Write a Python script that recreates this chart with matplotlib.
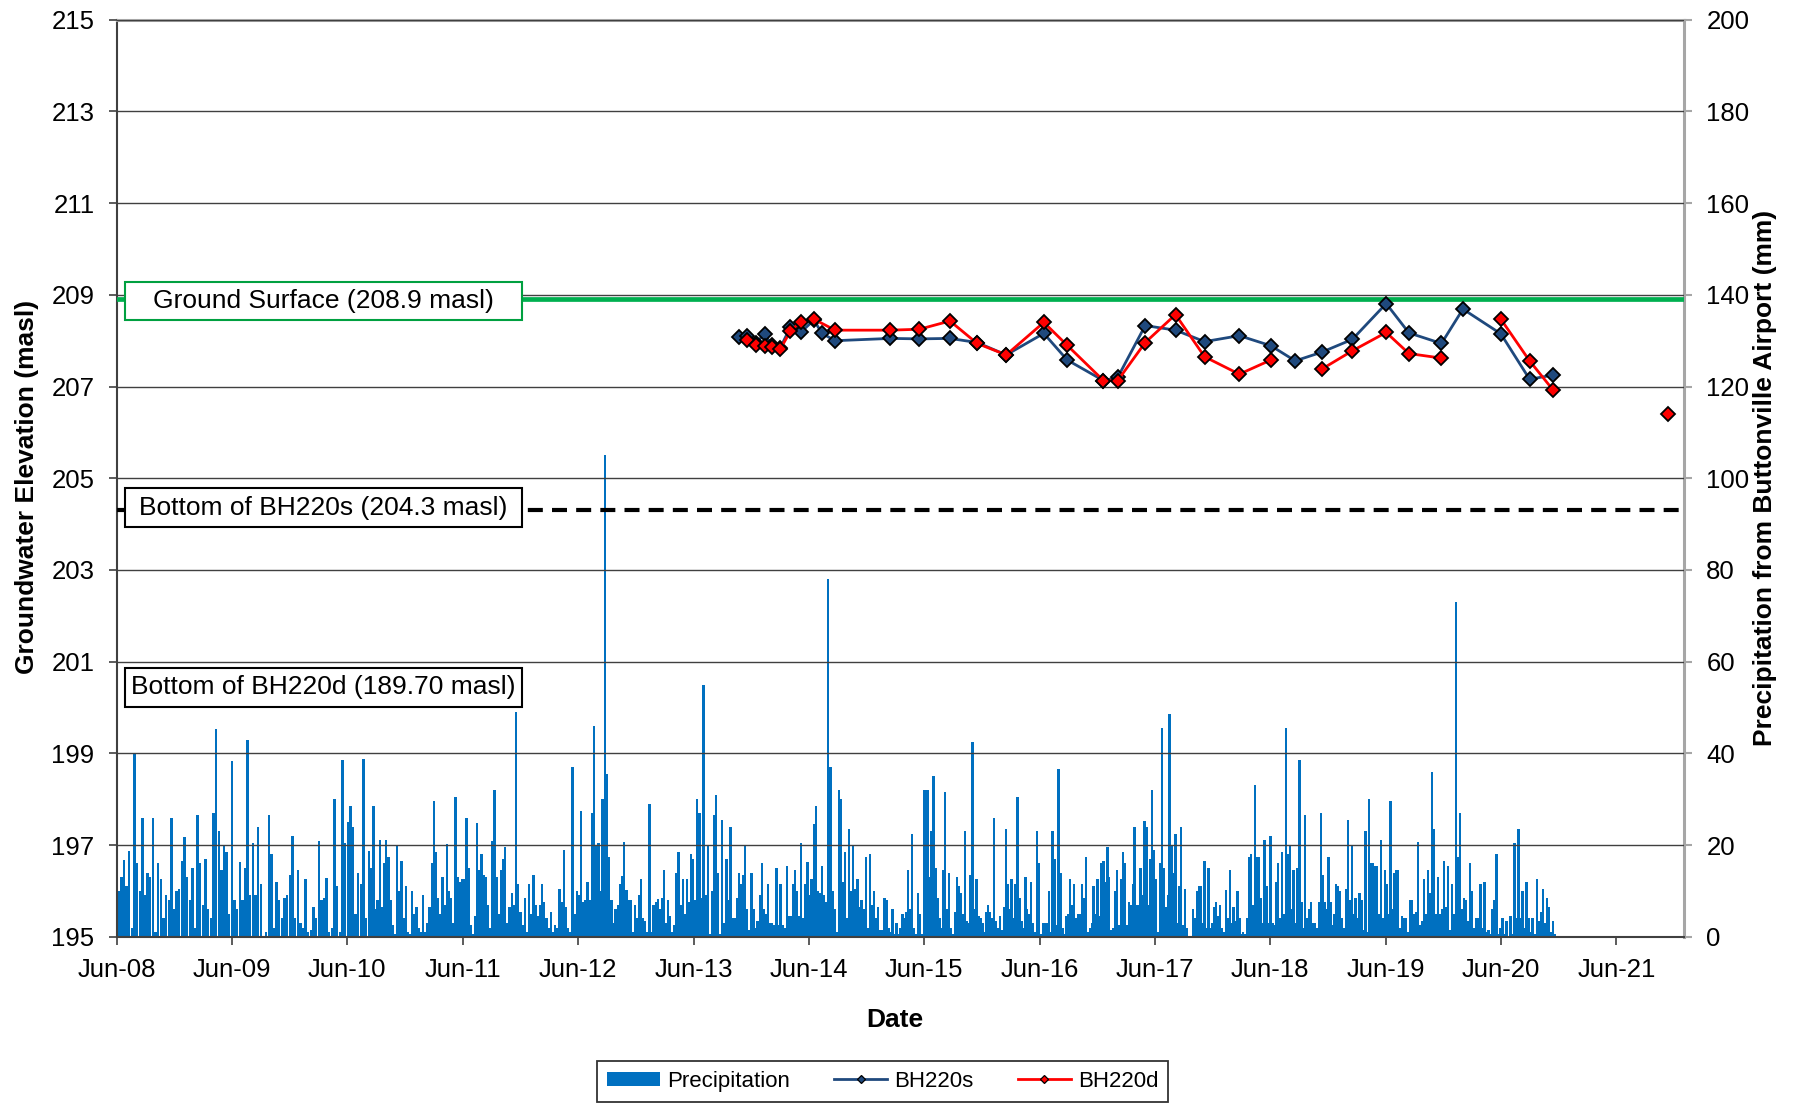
"""
Groundwater levels in BH220s / BH220d against daily precipitation
(Buttonville Airport), Jun 2008 - Dec 2021.
"""

import numpy as np
import pandas as pd
import matplotlib
matplotlib.use("Agg")
import matplotlib.pyplot as plt
import matplotlib.dates as mdates
from matplotlib.lines import Line2D
from matplotlib.patches import Patch, Rectangle
from matplotlib.transforms import blended_transform_factory

plt.rcParams["font.family"] = ["Liberation Sans", "DejaVu Sans"]

# --- Data ---------------------------------------------------------------------

# Reference elevations (masl)
GROUND_SURFACE = 208.9
BOTTOM_BH220S = 204.3
BOTTOM_BH220D = 189.70

# Water levels (masl); nan = no reading (breaks the line)
BH220S_DATES = ["2013-10-22", "2013-11-18", "2013-12-15", "2014-01-13", "2014-02-03",
                "2014-03-03", "2014-04-04", "2014-05-06", "2014-06-17", "2014-07-13",
                "2014-08-23", "2015-02-14", "2015-05-17", "2015-08-22", "2015-11-16",
                "2016-02-16", "2016-06-14", "2016-08-27", "2016-12-20", "2017-02-03",
                "2017-05-01", "2017-08-05", "2017-11-05", "2018-02-23", "2018-06-03",
                "2018-08-19", "2018-11-11", "2019-02-16", "2019-06-03", "2019-08-14",
                "2019-11-25", "2020-02-01", "2020-05-31", "2020-08-30", "2020-11-13"]
BH220S = [208.07, 208.10, 207.95, 208.15, 207.90, 207.85, 208.30, 208.18, 208.45, 208.16,
          208.00, 208.05, 208.04, 208.05, 207.96, 207.69, 208.16, 207.58, 207.13, 207.20,
          208.33, 208.23, 207.98, 208.11, 207.89, 207.56, 207.75, 208.03, 208.81, 208.17,
          207.94, 208.69, 208.15, 207.16, 207.25]

BH220D_DATES = ["2013-11-18", "2013-12-15", "2014-01-13", "2014-02-03", "2014-03-03",
                "2014-04-04", "2014-05-06", "2014-06-17", "2014-08-23", "2015-02-14",
                "2015-05-17", "2015-08-22", "2015-11-16", "2016-02-16", "2016-06-14",
                "2016-08-27", "2016-12-20", "2017-02-03", "2017-05-01", "2017-08-05",
                "2017-11-05", "2018-02-23", "2018-06-03", "2018-08-19", "2018-11-11",
                "2019-02-16", "2019-06-03", "2019-08-14", "2019-11-25", "2020-02-01",
                "2020-05-31", "2020-08-30", "2020-11-13", "2021-05-01", "2021-11-12"]
BH220D = [208.01, 207.90, 207.89, 207.87, 207.82, 208.21, 208.41, 208.47, 208.23, 208.23,
          208.25, 208.43, 207.94, 207.69, 208.40, 207.90, 207.13, 207.13, 207.96, 208.57,
          207.65, 207.27, 207.58, np.nan, 207.38, 207.78, 208.18, 207.72, 207.62, np.nan,
          208.47, 207.56, 206.92, np.nan, 206.40]

# Precipitation (mm), read off in six consecutive stretches; values are spread
# evenly over each stretch (roughly one bar every 6-8 days).
PRECIP_BOUNDS = ["2008-06-03", "2010-08-12", "2012-11-11", "2015-02-12",
                 "2017-05-14", "2019-08-14", "2020-11-21"]

PRECIP_1 = [10, 13, 16.7, 11, 18.7, 2, 40, 16, 10, 26, 9, 14, 13, 26, 1, 16, 12.5, 4, 9, 8,
            26, 6, 10, 10.5, 16.5, 21.7, 13, 8, 15, 2, 26.5, 16, 7, 17, 6, 4, 27, 45.4, 23, 14.5,
            20, 18.5, 5, 38.4, 8, 6, 16.2, 8, 15, 43, 9, 20.5, 9, 24, 11.5, 0, 1, 26.5, 18, 2,
            12, 8, 4, 8.5, 9, 13.5, 22, 4, 14.5, 3, 2, 12.5, 1, 1.5, 6.5, 4, 20.8, 8, 8.5, 12.8,
            1, 2, 30, 11, 1, 38.6, 20.5, 25, 28.5, 24, 5, 14, 11.5, 38.8, 4, 18.6]

PRECIP_2 = [15, 28.5, 6, 8, 21, 6.5, 16, 21, 17.5, 8, 2.5, 0.5, 20, 10, 16.5, 4, 11, 1, 0.5, 10,
            5, 6.5, 2, 1, 9, 1, 3, 6.5, 16, 29.7, 18.5, 8.5, 5, 13, 7, 20.3, 10, 8.5, 3, 30.5,
            13, 12, 12.5, 12.5, 25.8, 15, 2.5, 0.5, 4.5, 24.8, 14.5, 18, 13.5, 13, 7, 2, 20.8, 32, 13, 5,
            14.5, 17, 19.5, 3, 6.5, 9.5, 7, 49, 11.5, 5.5, 2.5, 8.5, 1, 11.5, 5, 13.5, 7, 4.5, 7, 11.5,
            7.5, 4, 2, 5.5, 1, 2.5, 2, 10.5, 7.5, 19, 6.5, 2, 1, 37, 5, 10, 9, 27.5, 7.5, 8,
            12, 8, 27, 46, 20, 20.5, 10, 30, 105, 35.5, 17.5, 8, 3, 6, 7, 11.5, 13.2, 20.7, 10.3, 8]

PRECIP_3 = [8, 1, 7, 4, 9, 12.5, 4, 3.5, 1, 29, 1, 7, 7.5, 8.2, 6, 8.5, 14.5, 3, 8, 4.5,
            1, 2.5, 14, 18.5, 7, 12.5, 5, 12.7, 7.5, 18, 17, 8, 30, 27, 8.5, 55, 9, 20, 0.5, 10,
            26.5, 31, 14, 0.5, 25.5, 3, 17, 8, 24, 4, 4, 8.5, 14, 11.5, 13.5, 20, 6, 1.5, 14, 6,
            2, 3.5, 9, 16, 6, 5, 11.5, 3, 3, 2.5, 15, 2.5, 11.5, 2.5, 2, 15.5, 4.5, 4.5, 11.5, 14.5,
            10, 4.5, 20.5, 4, 11.5, 16.2, 9, 12.7, 24.5, 28.5, 10, 9.5, 15.5, 9, 7.5, 78, 37, 10, 6, 1,
            32, 30, 12, 18.5, 4, 23.5, 10, 20, 10.5, 12.5, 6.5, 8, 6, 17.5, 2, 18, 7, 10, 4, 6.5,
            1.5, 1.5, 8.5, 8, 2]

PRECIP_4 = [1, 6, 0.5, 3, 0.5, 2, 5, 4, 5.5, 14.5, 6, 22.5, 2, 0.5, 9.5, 5, 0.5, 32, 32, 32,
            13, 23, 35, 15, 8.5, 4, 2, 14.5, 31.5, 6, 14, 2, 0.5, 5.5, 13, 11, 9.5, 5, 23, 3.5,
            3, 13.5, 42.5, 6, 12.5, 4.5, 4, 3, 1, 5.5, 7, 5.5, 4, 26, 3.5, 2, 4.5, 1.5, 6.5, 23.5,
            11.5, 6, 12.5, 4, 11.5, 30.5, 8.5, 3.5, 2, 13, 6, 5, 12, 3, 1, 23, 16, 0.5, 3, 3,
            3, 10, 1, 23, 17, 2.5, 36.5, 14, 2, 0.5, 4.5, 5, 12.5, 7, 11.5, 4, 5, 5, 11.5, 8.5,
            17.3, 1, 2, 3, 11, 5, 12.7, 4.5, 16, 16.5, 12, 19.5, 13, 1.5, 2, 10, 14.5, 2.5, 12.5, 18.5,
            16, 2.5, 7.5, 7, 11.5, 24, 7, 7, 15, 9, 25.2, 24, 7]

PRECIP_5 = [17, 32, 19, 12.5, 1, 16, 45.5, 15, 6.5, 9, 48.5, 20, 14, 22.5, 3, 11, 24, 2.5, 10.5, 2,
            0, 0, 6, 4, 10, 11, 11, 3, 16.5, 2, 15, 2, 3, 6.5, 7.5, 4.5, 7, 2, 1, 10.3,
            4, 14.5, 3, 6.5, 3.5, 10, 4, 0.5, 1, 0.5, 4, 17.5, 18, 7, 33, 17.5, 17.5, 8.5, 3, 21,
            11, 3, 22, 3, 2.5, 12, 16, 4, 18.5, 5, 45.5, 18, 20, 6, 14.5, 3, 15, 38.5, 7.5, 2,
            26.5, 4, 6, 7.5, 3, 3, 2, 7.5, 27, 13.5, 7.5, 6, 17.5, 7.5, 2.5, 5, 11.5, 11, 10, 4,
            2, 10.5, 25.5, 8, 20, 5, 8.5, 4, 9.5, 8, 1.5, 23, 1, 30, 16, 16, 15.5, 15.5, 5, 21,
            4, 14.5, 11.5, 5, 29.5, 6, 14, 14.5, 14.5, 2, 4.5, 4, 4, 1]

PRECIP_6 = [8, 8, 5, 5.5, 20.7, 2.5, 3.5, 12.5, 5, 14.5, 9.5, 36, 23.5, 5, 13, 5, 6, 16.5, 6.5, 15.5,
            1.5, 11.5, 5, 73, 17.5, 27, 6, 8.5, 8, 3.5, 16, 10, 2, 4, 4, 11.5, 2, 12, 1, 1.5,
            0.5, 6, 8, 18, 0.5, 2, 4, 0.5, 3.5, 0, 4.5, 0.5, 20.5, 4, 23.5, 4, 10, 2, 12, 4,
            1, 4, 0.5, 12.5, 3.5, 5.5, 10.5, 3, 8.5, 6.5, 1, 3.5, 0.5]

PRECIP_STRETCHES = [PRECIP_1, PRECIP_2, PRECIP_3, PRECIP_4, PRECIP_5, PRECIP_6]

# --- Colours / styles ---------------------------------------------------------

BAR_BLUE = "#0070C0"
S_BLUE = "#1F497D"
D_RED = "#FF0000"
GREEN = "#00B050"
GRID = "#404040"
FRAME_GREY = "#A6A6A6"


def precip_series():
    """Dates (matplotlib numbers) and mm for all precipitation bars."""
    meje = mdates.date2num(pd.to_datetime(PRECIP_BOUNDS))
    x, y = [], []
    for k, vals in enumerate(PRECIP_STRETCHES):
        korak = (meje[k + 1] - meje[k]) / len(vals)
        x.extend(meje[k] + (np.arange(len(vals)) + 0.5) * korak)
        y.extend(vals)
    return np.array(x), np.array(y)


def text_box(ax, y_lo, y_hi, label, edge):
    """White labelled box at the left of the plot (x in axes, y in data)."""
    trans = blended_transform_factory(ax.transAxes, ax.transData)
    ax.add_patch(Rectangle((0.0053, y_lo), 0.2533, y_hi - y_lo, transform=trans,
                           facecolor="white", edgecolor=edge, linewidth=1.5, zorder=6))
    ax.text(0.132, (y_lo + y_hi) / 2, label, transform=trans, ha="center", va="center",
            fontsize=19, zorder=7)


def main():
    fig = plt.figure(figsize=(17.99, 11.04), dpi=100)
    ax = fig.add_axes([0.0649, 0.1515, 0.8712, 0.8306])
    ax2 = ax.twinx()
    ax.set_zorder(ax2.get_zorder() + 1)
    ax.patch.set_visible(False)

    # precipitation bars on the secondary axis
    px, py = precip_series()
    ax2.bar(px, py, width=7.5, color=BAR_BLUE, linewidth=0, antialiased=False,
            label="Precipitation")
    ax2.set_ylim(0, 200)
    ax2.set_yticks(np.arange(0, 201, 20))

    # reference lines
    ax.axhline(GROUND_SURFACE, color=GREEN, linewidth=3.4, zorder=3)
    ax.axhline(BOTTOM_BH220S, color="black", linewidth=3.0, dashes=(3.6, 2.2), zorder=3)

    # water levels
    ax.plot(pd.to_datetime(BH220S_DATES), BH220S, color=S_BLUE, linewidth=2.0,
            marker="D", markersize=6.8, markerfacecolor=S_BLUE, markeredgecolor="black",
            markeredgewidth=1.3, zorder=4)
    ax.plot(pd.to_datetime(BH220D_DATES), BH220D, color=D_RED, linewidth=2.0,
            marker="D", markersize=6.8, markerfacecolor=D_RED, markeredgecolor="black",
            markeredgewidth=1.3, zorder=5)

    text_box(ax, 208.45, 209.285, "Ground Surface (208.9 masl)", "#00A040")
    text_box(ax, 203.935, 204.786, "Bottom of BH220s (204.3 masl)", "black")
    text_box(ax, 200.016, 200.867, "Bottom of BH220d (%.2f masl)" % BOTTOM_BH220D, "black")

    # axes
    ax.set_ylim(195, 215)
    ax.set_yticks(np.arange(195, 216, 2))
    ax.set_xlim(pd.Timestamp("2008-06-01"), pd.Timestamp("2022-01-01"))
    ax.xaxis.set_major_locator(mdates.MonthLocator(bymonth=6, bymonthday=1))
    ax.xaxis.set_major_formatter(mdates.DateFormatter("%b-%y"))
    ax.yaxis.grid(True, color=GRID, linewidth=1.0)
    ax.set_axisbelow(False)

    for s in ("left", "bottom"):
        ax.spines[s].set_color(GRID)
        ax.spines[s].set_linewidth(1.5)
    for s in ("top", "right"):
        ax.spines[s].set_color(FRAME_GREY)
        ax.spines[s].set_linewidth(2.2)
    for s in ax2.spines.values():
        s.set_visible(False)

    ax.tick_params(axis="both", direction="out", length=6, width=1.2, color=GRID,
                   labelsize=18.5, pad=10)
    ax.tick_params(axis="x", pad=9)
    ax2.tick_params(axis="y", direction="out", length=6, width=1.5, color=FRAME_GREY,
                    labelsize=18.5, pad=10)

    ax.set_ylabel("Groundwater Elevation (masl)", fontsize=19, fontweight="bold")
    ax.yaxis.set_label_coords(-0.0495, 0.49)
    ax2.set_ylabel("Precipitation from Buttonville Airport (mm)", fontsize=19,
                   fontweight="bold")
    ax2.yaxis.set_label_coords(1.0437, 0.50)
    ax.set_xlabel("Date", fontsize=19, fontweight="bold", va="center")
    ax.xaxis.set_label_coords(0.4964, -0.091)

    # legend
    handles = [
        Patch(facecolor=BAR_BLUE, edgecolor="none"),
        Line2D([], [], color=S_BLUE, linewidth=2.0, marker="D", markersize=4.5,
               markerfacecolor=S_BLUE, markeredgecolor="black", markeredgewidth=0.9),
        Line2D([], [], color=D_RED, linewidth=2.0, marker="D", markersize=4.5,
               markerfacecolor=D_RED, markeredgecolor="black", markeredgewidth=0.9),
    ]
    leg = fig.legend(handles, ["Precipitation", "BH220s", "BH220d"], loc="center",
                     bbox_to_anchor=(0.4905, 0.0208), ncol=3, fontsize=16,
                     frameon=True, fancybox=False, edgecolor="black",
                     handlelength=2.4, handleheight=0.6, handletextpad=0.3,
                     columnspacing=2.0, borderpad=0.45, borderaxespad=0)
    leg.get_frame().set_linewidth(1.3)

    fig.savefig("out.png", dpi=100)
    plt.close(fig)


if __name__ == "__main__":
    main()
